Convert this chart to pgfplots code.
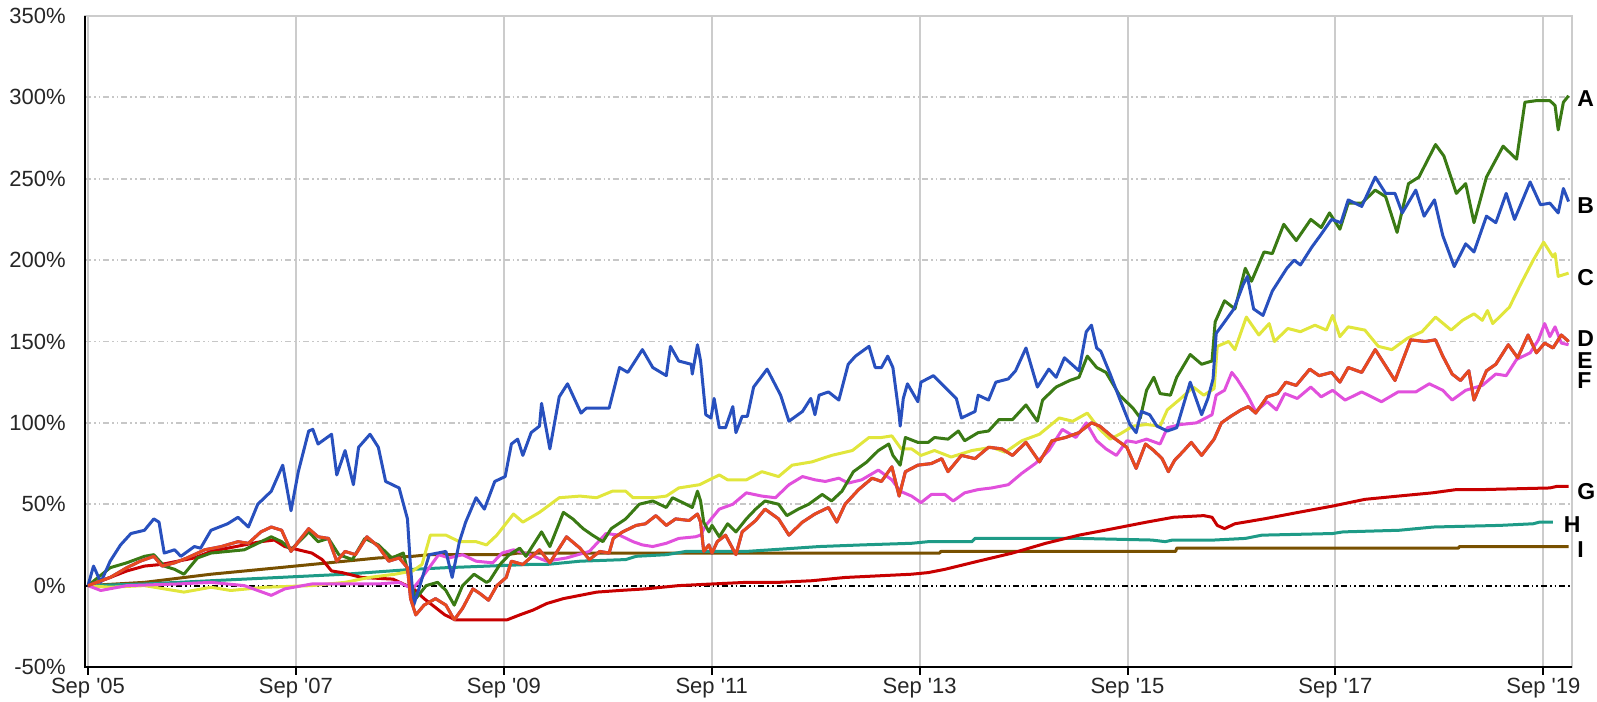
\documentclass[border=0pt]{standalone}
\usepackage{fontspec}
\setmainfont{Liberation Sans}
\usepackage{pgfplots}
\pgfplotsset{compat=1.18}
\definecolor{cA}{RGB}{58,122,20}
\definecolor{cB}{RGB}{40,80,190}
\definecolor{cC}{RGB}{225,230,60}
\definecolor{cD}{RGB}{232,74,30}
\definecolor{cE}{RGB}{90,40,200}
\definecolor{cF}{RGB}{225,80,220}
\definecolor{cG}{RGB}{200,0,0}
\definecolor{cH}{RGB}{30,155,135}
\definecolor{cI}{RGB}{120,80,0}
\begin{document}
\begin{tikzpicture}
\begin{axis}[
  scale only axis, width=743.5bp, height=325.5bp,
  xmin=2005.638, xmax=2019.943, ymin=-50, ymax=350,
  xtick={2005.667,2007.667,2009.667,2011.667,2013.667,2015.667,2017.667,2019.667},
  xticklabels={Sep \textquotesingle05,Sep \textquotesingle07,Sep \textquotesingle09,Sep \textquotesingle11,Sep \textquotesingle13,Sep \textquotesingle15,Sep \textquotesingle17,Sep \textquotesingle19},
  ytick={-50,0,50,100,150,200,250,300,350},
  yticklabels={-50\%,0\%,50\%,100\%,150\%,200\%,250\%,300\%,350\%},
  xmajorgrids, ymajorgrids,
  major x grid style={draw=black!20, line width=1bp},
  major y grid style={draw=black!22, line width=0.9bp, dash pattern=on 3bp off 1.5bp on 0.8bp off 1.5bp on 0.8bp off 1.5bp},
  axis line style={draw=black!20, line width=1bp},
  tick align=outside, xtick pos=left, ytick pos=left,
  ytick style={draw=none},
  xtick style={black, line width=1bp}, major tick length=4bp,
  ticklabel style={font=\fontsize{11bp}{13bp}\selectfont, text=black!85},
  yticklabel style={inner sep=0pt, xshift=-5.5bp},
  xticklabel style={inner sep=0pt, yshift=-1.5bp},
  clip=false,
  every axis plot/.append style={line width=1.5bp, line join=round, no markers},
]
\addplot[black, line width=0.9bp, dash pattern=on 3bp off 1.5bp on 0.8bp off 1.5bp on 0.8bp off 1.5bp] coordinates {(2005.638,0) (2019.943,0)};
% I brown
\addplot[cI] coordinates {
(2005.667,0) (2006.21,2) (2006.85,7) (2007.50,11) (2007.82,13) (2008.14,15) (2008.46,17) (2008.79,18) (2008.95,19) (2009.70,19) (2009.80,20) (2013.86,20) (2013.87,21) (2016.13,21) (2016.14,23) (2018.85,23) (2018.86,24) (2019.91,24)};
% H teal
\addplot[cH] coordinates {
(2005.667,0) (2006.21,1) (2006.85,3) (2007.50,5) (2008.14,7) (2008.79,10) (2009.11,11) (2009.92,13) (2010.08,13) (2010.40,15) (2010.84,16) (2010.94,18) (2011.23,19) (2011.42,21) (2012.00,21) (2012.47,23) (2012.70,24) (2013.11,25) (2013.59,26) (2013.75,27) (2014.17,27) (2014.20,29) (2015.20,29) (2015.90,28) (2016.03,27) (2016.10,28) (2016.50,28) (2016.80,29) (2016.96,31) (2017.64,32) (2017.74,33) (2018.28,34) (2018.61,36) (2019.25,37) (2019.57,38) (2019.63,39) (2019.76,39)};
% G dark red
\addplot[cG] coordinates {
(2005.667,0) (2005.88,5) (2006.04,9) (2006.21,12) (2006.37,13) (2006.53,15) (2006.69,17) (2006.85,21) (2007.01,23) (2007.17,25) (2007.33,27) (2007.46,28) (2007.56,24) (2007.69,22) (2007.82,20) (2007.92,16) (2008.01,9) (2008.11,8) (2008.30,5) (2008.60,4) (2008.70,1) (2008.80,-2) (2008.90,-8) (2009.00,-13) (2009.10,-18) (2009.20,-21) (2009.70,-21) (2009.82,-18) (2009.95,-15) (2010.08,-11) (2010.24,-8) (2010.40,-6) (2010.56,-4) (2010.78,-3) (2011.03,-2) (2011.35,0) (2011.67,1) (2012.00,2) (2012.31,2) (2012.63,3) (2012.95,5) (2013.27,6) (2013.59,7) (2013.75,8) (2013.91,10) (2014.23,15) (2014.56,20) (2014.88,26) (2015.20,31) (2015.53,35) (2015.85,39) (2016.11,42) (2016.40,43) (2016.48,42) (2016.53,37) (2016.60,35) (2016.70,38) (2016.98,41) (2017.31,45) (2017.65,49) (2017.95,53) (2018.27,55) (2018.60,57) (2018.83,59) (2019.08,59) (2019.73,60) (2019.80,61) (2019.91,61)};
% C yellow
\addplot[cC] coordinates {
(2005.667,0) (2005.88,-1) (2006.21,0) (2006.40,-2) (2006.59,-4) (2006.85,-1) (2007.04,-3) (2007.37,-1) (2007.82,0) (2008.14,2) (2008.37,5) (2008.62,7) (2008.79,9) (2008.88,13) (2008.96,31) (2009.11,31) (2009.24,27) (2009.40,27) (2009.50,25) (2009.60,31) (2009.76,44) (2009.85,39) (2010.01,45) (2010.20,54) (2010.40,55) (2010.56,54) (2010.71,58) (2010.84,58) (2010.91,54) (2011.10,54) (2011.23,55) (2011.35,60) (2011.55,62) (2011.74,68) (2011.82,65) (2012.00,65) (2012.15,70) (2012.31,67) (2012.44,74) (2012.63,76) (2012.82,80) (2013.02,83) (2013.18,91) (2013.30,91) (2013.40,92) (2013.49,84) (2013.59,84) (2013.68,80) (2013.81,83) (2013.97,79) (2014.17,83) (2014.36,85) (2014.49,82) (2014.65,89) (2014.82,93) (2015.01,103) (2015.14,101) (2015.28,106) (2015.40,96) (2015.50,90) (2015.59,93) (2015.72,98) (2015.85,99) (2015.98,98) (2016.05,108) (2016.18,115) (2016.30,122) (2016.40,117) (2016.50,121) (2016.53,147) (2016.64,150) (2016.70,145) (2016.81,165) (2016.93,154) (2017.03,161) (2017.08,150) (2017.21,158) (2017.33,156) (2017.47,160) (2017.58,157) (2017.64,166) (2017.71,153) (2017.79,159) (2017.95,157) (2018.08,147) (2018.21,145) (2018.36,152) (2018.50,156) (2018.63,165) (2018.78,157) (2018.89,163) (2019.00,167) (2019.08,163) (2019.13,169) (2019.18,161) (2019.34,171) (2019.44,184) (2019.57,200) (2019.67,211) (2019.72,206) (2019.76,202) (2019.78,204) (2019.81,190) (2019.91,192)};
% F magenta
\addplot[cF] coordinates {
(2005.667,0) (2005.79,-3) (2006.04,0) (2006.53,1) (2006.85,2) (2007.17,0) (2007.43,-6) (2007.56,-2) (2007.82,1) (2008.14,1) (2008.46,1) (2008.66,2) (2008.79,-2) (2008.88,5) (2009.04,19) (2009.14,17) (2009.27,19) (2009.40,15) (2009.56,14) (2009.65,20) (2009.76,22) (2009.92,19) (2010.08,15) (2010.27,17) (2010.49,21) (2010.65,32) (2010.78,31) (2010.91,27) (2011.00,25) (2011.10,24) (2011.23,26) (2011.35,29) (2011.51,30) (2011.56,31) (2011.61,37) (2011.74,47) (2011.87,50) (2012.00,57) (2012.15,55) (2012.28,54) (2012.41,62) (2012.54,67) (2012.66,65) (2012.76,64) (2012.89,66) (2012.98,63) (2013.11,65) (2013.27,71) (2013.40,65) (2013.48,58) (2013.59,55) (2013.68,51) (2013.78,56) (2013.91,56) (2013.99,52) (2014.10,57) (2014.23,59) (2014.36,60) (2014.52,62) (2014.65,69) (2014.78,75) (2014.91,83) (2015.04,96) (2015.17,91) (2015.27,100) (2015.37,89) (2015.46,84) (2015.56,80) (2015.66,89) (2015.75,88) (2015.85,90) (2015.98,87) (2016.05,97) (2016.18,99) (2016.33,100) (2016.42,103) (2016.48,105) (2016.52,117) (2016.60,120) (2016.67,131) (2016.72,127) (2016.82,117) (2016.90,107) (2017.01,113) (2017.10,108) (2017.18,118) (2017.30,115) (2017.43,122) (2017.53,116) (2017.64,120) (2017.76,114) (2017.92,119) (2018.11,113) (2018.27,119) (2018.44,119) (2018.57,124) (2018.70,120) (2018.79,114) (2018.92,120) (2019.08,123) (2019.21,130) (2019.31,129) (2019.41,139) (2019.54,143) (2019.62,151) (2019.68,161) (2019.73,153) (2019.78,159) (2019.84,149) (2019.91,148)};
% A green
\addplot[cA] coordinates {
(2005.667,0) (2005.88,11) (2006.04,14) (2006.21,18) (2006.30,19) (2006.40,12) (2006.50,10) (2006.59,7) (2006.72,17) (2006.85,20) (2007.01,21) (2007.17,22) (2007.30,26) (2007.43,30) (2007.53,27) (2007.62,22) (2007.79,33) (2007.88,27) (2007.98,29) (2008.08,19) (2008.21,16) (2008.33,29) (2008.46,25) (2008.59,17) (2008.70,20) (2008.75,7) (2008.82,-8) (2008.92,0) (2009.03,2) (2009.11,-3) (2009.19,-12) (2009.27,0) (2009.38,7) (2009.50,2) (2009.53,3) (2009.63,13) (2009.72,19) (2009.82,23) (2009.88,18) (2010.03,33) (2010.11,24) (2010.24,45) (2010.33,41) (2010.43,35) (2010.52,31) (2010.62,27) (2010.70,35) (2010.84,41) (2010.97,50) (2011.10,52) (2011.23,48) (2011.29,54) (2011.42,50) (2011.48,48) (2011.53,58) (2011.56,52) (2011.59,39) (2011.64,33) (2011.67,37) (2011.74,30) (2011.82,38) (2011.90,33) (2012.00,41) (2012.09,47) (2012.18,52) (2012.31,50) (2012.39,43) (2012.50,47) (2012.60,50) (2012.73,56) (2012.82,52) (2012.92,58) (2013.03,70) (2013.16,76) (2013.27,83) (2013.37,87) (2013.41,80) (2013.48,74) (2013.53,91) (2013.65,88) (2013.75,88) (2013.81,91) (2013.94,90) (2014.04,95) (2014.10,89) (2014.23,94) (2014.33,95) (2014.43,102) (2014.56,102) (2014.69,111) (2014.80,101) (2014.85,114) (2014.98,122) (2015.11,126) (2015.20,128) (2015.28,141) (2015.37,134) (2015.46,131) (2015.59,117) (2015.72,109) (2015.79,103) (2015.85,120) (2015.92,128) (2015.98,118) (2016.08,117) (2016.14,128) (2016.27,142) (2016.38,136) (2016.48,138) (2016.51,162) (2016.60,175) (2016.70,170) (2016.80,195) (2016.86,187) (2016.98,205) (2017.06,204) (2017.17,222) (2017.29,212) (2017.43,225) (2017.53,220) (2017.61,229) (2017.71,219) (2017.79,235) (2017.92,235) (2018.05,243) (2018.15,239) (2018.26,217) (2018.37,247) (2018.47,251) (2018.63,271) (2018.71,264) (2018.83,241) (2018.92,247) (2019.00,223) (2019.12,251) (2019.28,270) (2019.41,262) (2019.49,297) (2019.60,298) (2019.73,298) (2019.78,295) (2019.81,280) (2019.86,297) (2019.91,301)};
% B blue
\addplot[cB] coordinates {
(2005.667,0) (2005.72,12) (2005.79,2) (2005.88,15) (2005.98,25) (2006.08,32) (2006.21,34) (2006.30,41) (2006.35,39) (2006.40,20) (2006.50,22) (2006.56,18) (2006.69,24) (2006.75,23) (2006.85,34) (2007.01,38) (2007.11,42) (2007.21,36) (2007.30,50) (2007.43,58) (2007.54,74) (2007.62,46) (2007.69,70) (2007.79,95) (2007.83,96) (2007.88,87) (2008.01,93) (2008.06,68) (2008.14,83) (2008.22,62) (2008.27,85) (2008.38,93) (2008.46,85) (2008.53,64) (2008.66,60) (2008.74,41) (2008.77,11) (2008.80,-12) (2008.85,-2) (2008.95,19) (2009.11,21) (2009.17,5) (2009.24,27) (2009.30,39) (2009.40,54) (2009.48,47) (2009.58,64) (2009.68,67) (2009.74,87) (2009.80,90) (2009.85,80) (2009.93,94) (2010.01,98) (2010.03,112) (2010.11,84) (2010.20,116) (2010.28,124) (2010.41,106) (2010.46,109) (2010.68,109) (2010.78,134) (2010.86,131) (2011.00,145) (2011.10,134) (2011.23,129) (2011.27,147) (2011.35,138) (2011.47,136) (2011.48,130) (2011.53,148) (2011.56,138) (2011.61,105) (2011.66,103) (2011.69,115) (2011.74,97) (2011.80,97) (2011.87,110) (2011.90,94) (2011.96,104) (2012.01,104) (2012.07,122) (2012.20,133) (2012.33,117) (2012.41,101) (2012.54,107) (2012.62,115) (2012.66,105) (2012.70,117) (2012.79,119) (2012.89,114) (2012.98,136) (2013.05,141) (2013.18,147) (2013.24,134) (2013.30,134) (2013.36,141) (2013.41,134) (2013.47,105) (2013.48,98) (2013.51,115) (2013.55,124) (2013.65,113) (2013.68,125) (2013.80,129) (2013.91,122) (2014.02,115) (2014.07,103) (2014.20,107) (2014.23,117) (2014.33,114) (2014.40,125) (2014.52,127) (2014.59,132) (2014.69,146) (2014.80,122) (2014.91,133) (2014.98,128) (2015.06,140) (2015.20,132) (2015.27,156) (2015.32,160) (2015.37,146) (2015.41,144) (2015.50,130) (2015.59,115) (2015.69,99) (2015.75,94) (2015.80,107) (2015.88,105) (2015.95,98) (2016.05,95) (2016.14,97) (2016.27,125) (2016.38,105) (2016.44,115) (2016.49,127) (2016.52,155) (2016.60,162) (2016.69,170) (2016.78,185) (2016.82,190) (2016.88,170) (2016.97,166) (2017.06,181) (2017.20,195) (2017.27,200) (2017.33,197) (2017.44,208) (2017.52,215) (2017.63,225) (2017.72,223) (2017.79,237) (2017.92,233) (2018.05,251) (2018.15,241) (2018.24,241) (2018.31,229) (2018.44,243) (2018.52,227) (2018.62,237) (2018.70,215) (2018.81,196) (2018.92,210) (2019.00,205) (2019.12,227) (2019.21,223) (2019.31,241) (2019.39,225) (2019.54,248) (2019.64,234) (2019.73,235) (2019.81,229) (2019.86,244) (2019.91,236)};
% E purple (under D) and D orange
\addplot[cE] coordinates {
(2005.667,0) (2005.75,2) (2005.88,5) (2006.04,11) (2006.17,15) (2006.30,18) (2006.38,12) (2006.50,14) (2006.62,17) (2006.79,22) (2006.95,24) (2007.11,27) (2007.21,26) (2007.33,33) (2007.43,36) (2007.53,34) (2007.62,21) (2007.69,27) (2007.79,35) (2007.88,30) (2007.98,29) (2008.06,15) (2008.14,21) (2008.24,19) (2008.35,30) (2008.46,24) (2008.56,15) (2008.66,17) (2008.74,11) (2008.77,-8) (2008.82,-18) (2008.90,-12) (2009.01,-8) (2009.11,-12) (2009.19,-21) (2009.27,-14) (2009.37,-2) (2009.44,-5) (2009.52,-9) (2009.60,0) (2009.69,5) (2009.74,15) (2009.85,13) (2010.01,22) (2010.11,14) (2010.27,30) (2010.40,23) (2010.49,16) (2010.59,21) (2010.68,20) (2010.72,29) (2010.81,33) (2010.94,37) (2011.03,38) (2011.13,43) (2011.23,37) (2011.32,41) (2011.45,40) (2011.53,44) (2011.56,39) (2011.59,21) (2011.64,25) (2011.67,20) (2011.72,27) (2011.80,31) (2011.90,19) (2011.96,33) (2012.09,40) (2012.18,47) (2012.31,41) (2012.41,31) (2012.54,39) (2012.66,44) (2012.79,48) (2012.87,39) (2012.95,50) (2013.08,59) (2013.21,66) (2013.30,64) (2013.40,73) (2013.47,55) (2013.53,70) (2013.65,74) (2013.78,75) (2013.88,78) (2013.94,70) (2014.07,80) (2014.20,78) (2014.33,85) (2014.46,84) (2014.56,80) (2014.69,88) (2014.82,76) (2014.94,89) (2015.07,91) (2015.20,94) (2015.32,100) (2015.40,98) (2015.53,91) (2015.66,85) (2015.75,72) (2015.84,87) (2015.92,83) (2016.00,78) (2016.06,70) (2016.12,77) (2016.21,83) (2016.28,88) (2016.38,80) (2016.50,90) (2016.57,100) (2016.66,104) (2016.76,108) (2016.83,110) (2016.90,106) (2017.01,116) (2017.11,118) (2017.19,125) (2017.29,123) (2017.42,133) (2017.51,129) (2017.63,131) (2017.71,125) (2017.79,134) (2017.92,131) (2018.05,145) (2018.11,139) (2018.24,126) (2018.39,151) (2018.53,150) (2018.63,151) (2018.70,141) (2018.79,130) (2018.87,126) (2018.95,132) (2019.00,114) (2019.12,132) (2019.21,136) (2019.33,148) (2019.42,140) (2019.52,154) (2019.60,143) (2019.68,149) (2019.76,146) (2019.84,154) (2019.91,150)};
\addplot[cD] coordinates {
(2005.667,0) (2005.75,2) (2005.88,5) (2006.04,11) (2006.17,15) (2006.30,18) (2006.38,12) (2006.50,14) (2006.62,17) (2006.79,22) (2006.95,24) (2007.11,27) (2007.21,26) (2007.33,33) (2007.43,36) (2007.53,34) (2007.62,21) (2007.69,27) (2007.79,35) (2007.88,30) (2007.98,29) (2008.06,15) (2008.14,21) (2008.24,19) (2008.35,30) (2008.46,24) (2008.56,15) (2008.66,17) (2008.74,11) (2008.77,-8) (2008.82,-18) (2008.90,-12) (2009.01,-8) (2009.11,-12) (2009.19,-21) (2009.27,-14) (2009.37,-2) (2009.44,-5) (2009.52,-9) (2009.60,0) (2009.69,5) (2009.74,15) (2009.85,13) (2010.01,22) (2010.11,14) (2010.27,30) (2010.40,23) (2010.49,16) (2010.59,21) (2010.68,20) (2010.72,29) (2010.81,33) (2010.94,37) (2011.03,38) (2011.13,43) (2011.23,37) (2011.32,41) (2011.45,40) (2011.53,44) (2011.56,39) (2011.59,21) (2011.64,25) (2011.67,20) (2011.72,27) (2011.80,31) (2011.90,19) (2011.96,33) (2012.09,40) (2012.18,47) (2012.31,41) (2012.41,31) (2012.54,39) (2012.66,44) (2012.79,48) (2012.87,39) (2012.95,50) (2013.08,59) (2013.21,66) (2013.30,64) (2013.40,73) (2013.47,55) (2013.53,70) (2013.65,74) (2013.78,75) (2013.88,78) (2013.94,70) (2014.07,80) (2014.20,78) (2014.33,85) (2014.46,84) (2014.56,80) (2014.69,88) (2014.82,76) (2014.94,89) (2015.07,91) (2015.20,94) (2015.32,100) (2015.40,98) (2015.53,91) (2015.66,85) (2015.75,72) (2015.84,87) (2015.92,83) (2016.00,78) (2016.06,70) (2016.12,77) (2016.21,83) (2016.28,88) (2016.38,80) (2016.50,90) (2016.57,100) (2016.66,104) (2016.76,108) (2016.83,110) (2016.90,106) (2017.01,116) (2017.11,118) (2017.19,125) (2017.29,123) (2017.42,133) (2017.51,129) (2017.63,131) (2017.71,125) (2017.79,134) (2017.92,131) (2018.05,145) (2018.11,139) (2018.24,126) (2018.39,151) (2018.53,150) (2018.63,151) (2018.70,141) (2018.79,130) (2018.87,126) (2018.95,132) (2019.00,114) (2019.12,132) (2019.21,136) (2019.33,148) (2019.42,140) (2019.52,154) (2019.60,143) (2019.68,149) (2019.76,146) (2019.84,154) (2019.91,150)};
% frame: black left and bottom lines
\draw[black, line width=1.2bp] (rel axis cs:0,1) -- (rel axis cs:0,0) -- (rel axis cs:1,0);
% end labels
\begin{scope}[every node/.style={anchor=west, inner sep=0pt, font=\bfseries\fontsize{11.5bp}{13bp}\selectfont}]
\node at (axis cs:2019.99,299.4) {A};
\node at (axis cs:2019.99,233.5) {B};
\node at (axis cs:2019.99,189) {C};
\node at (axis cs:2019.99,151.5) {D};
\node at (axis cs:2019.99,138) {E};
\node at (axis cs:2019.99,125.7) {F};
\node at (axis cs:2019.99,58) {G};
\node at (axis cs:2019.86,37.6) {H};
\node at (axis cs:2019.99,22.2) {I};
\end{scope}
\end{axis}
\pgfresetboundingbox
\path[use as bounding box] ([shift={(-42.5bp,-17.5bp)}]current axis.south west) rectangle ([shift={(12.5bp,8bp)}]current axis.north east);
\end{tikzpicture}
\end{document}
